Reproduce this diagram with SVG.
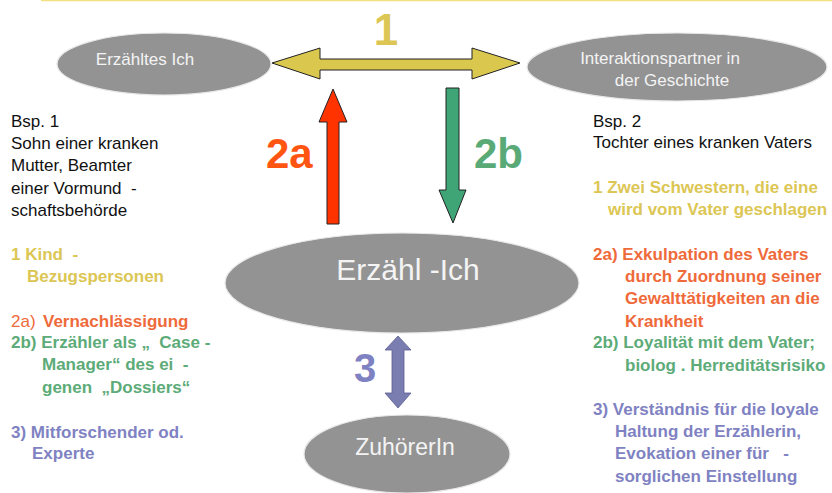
<svg xmlns="http://www.w3.org/2000/svg" width="832" height="493" viewBox="0 0 832 493">
<style>
.node{fill:#939393;stroke:#e8e8e8;stroke-width:1.2}
.nt{fill:#f4f4f4;font-family:"Liberation Sans",Arial,sans-serif}
.t{font-family:"Liberation Sans",Arial,sans-serif;font-size:17px}
.b{font-weight:bold}
.k{fill:#111}
.y{fill:#dcc654}
.o{fill:#ef6a3a}
.g{fill:#5cab78}
.bl{fill:#7f82c2}
.lbl{font-family:"Liberation Sans",Arial,sans-serif;font-weight:bold}
.arr{stroke:#222;stroke-width:1}
</style>
<line x1="41" y1="0.5" x2="832" y2="0.5" stroke="#f3e07e" stroke-width="1.5"/>

<g id="node-erzaehltes-ich">
<ellipse class="node" cx="164" cy="64" rx="107" ry="31"/>
<text class="nt" x="145" y="65" font-size="17" text-anchor="middle">Erzähltes Ich</text>
</g>

<g id="node-interaktionspartner">
<ellipse class="node" cx="677" cy="67" rx="150" ry="34"/>
<text class="nt" x="660" y="64" font-size="17" text-anchor="middle">Interaktionspartner in</text>
<text class="nt" x="672" y="86" font-size="17" text-anchor="middle">der Geschichte</text>
</g>

<g id="node-erzaehl-ich">
<ellipse class="node" cx="402" cy="283" rx="177" ry="50"/>
<text class="nt" x="408" y="280" font-size="30" text-anchor="middle">Erzähl -Ich</text>
</g>

<g id="node-zuhoererin">
<ellipse class="node" cx="407" cy="454" rx="103" ry="39"/>
<text class="nt" x="405" y="455" font-size="23" text-anchor="middle">ZuhörerIn</text>
</g>

<g id="connectors">
<polygon class="arr" fill="#dac74e" points="272,63 320,48 320,59 472,59 472,48 520,63 472,79 472,70 320,70 320,79"/>
<polygon class="arr" fill="#ff3300" points="333,89 347,122 339,122 339,224 327,224 327,122 319,122"/>
<polygon class="arr" fill="#3fa577" points="446,88 459,88 459,190 466,190 453,223 439,190 446,190"/>
<polygon stroke="#5a5d90" stroke-width="0.8" fill="#7a7db0" points="398,336 411,350 404,350 404,393 411,393 398,408 385,393 392,393 392,350 385,350"/>
<text class="lbl y" x="386" y="45" font-size="44" text-anchor="middle">1</text>
<text class="lbl" fill="#ff5511" x="266" y="168" font-size="42">2a</text>
<text class="lbl" fill="#5aaa78" x="474" y="168" font-size="42">2b</text>
<text class="lbl bl" x="354" y="382" font-size="40">3</text>
</g>

<g id="left-text" class="t">
<text class="k" x="11" y="127">Bsp. 1</text>
<text class="k" x="11" y="149">Sohn einer kranken</text>
<text class="k" x="11" y="171">Mutter, Beamter</text>
<text class="k" x="11" y="194" xml:space="preserve">einer Vormund  -</text>
<text class="k" x="11" y="216">schaftsbehörde</text>
<text class="y b" x="11" y="260" xml:space="preserve">1 Kind  -</text>
<text class="y b" x="27" y="282">Bezugspersonen</text>
<text class="o" x="11" y="327">2a) <tspan class="b" x="43">Vernachlässigung</tspan></text>
<text class="g b" x="11" y="348" xml:space="preserve">2b) Erzähler als „  Case -</text>
<text class="g b" x="42" y="370" xml:space="preserve">Manager“ des ei  -</text>
<text class="g b" x="42" y="393" xml:space="preserve">genen  „Dossiers“</text>
<text class="bl b" x="11" y="438">3) Mitforschender od.</text>
<text class="bl b" x="32" y="459">Experte</text>
</g>

<g id="right-text" class="t">
<text class="k" x="593" y="127">Bsp. 2</text>
<text class="k" x="593" y="148">Tochter eines kranken Vaters</text>
<text class="y b" x="593" y="193">1 Zwei Schwestern, die eine</text>
<text class="y b" x="608" y="215">wird vom Vater geschlagen</text>
<text class="o b" x="593" y="260">2a) Exkulpation des Vaters</text>
<text class="o b" x="625" y="282">durch Zuordnung seiner</text>
<text class="o b" x="625" y="304">Gewalttätigkeiten an die</text>
<text class="o b" x="625" y="327">Krankheit</text>
<text class="g b" x="593" y="348">2b) Loyalität mit dem Vater;</text>
<text class="g b" x="625" y="371">biolog . Herreditätsrisiko</text>
<text class="bl b" x="593" y="415">3) Verständnis für die loyale</text>
<text class="bl b" x="615" y="437">Haltung der Erzählerin,</text>
<text class="bl b" x="615" y="459" xml:space="preserve">Evokation einer für   -</text>
<text class="bl b" x="615" y="482">sorglichen Einstellung</text>
</g>
</svg>
